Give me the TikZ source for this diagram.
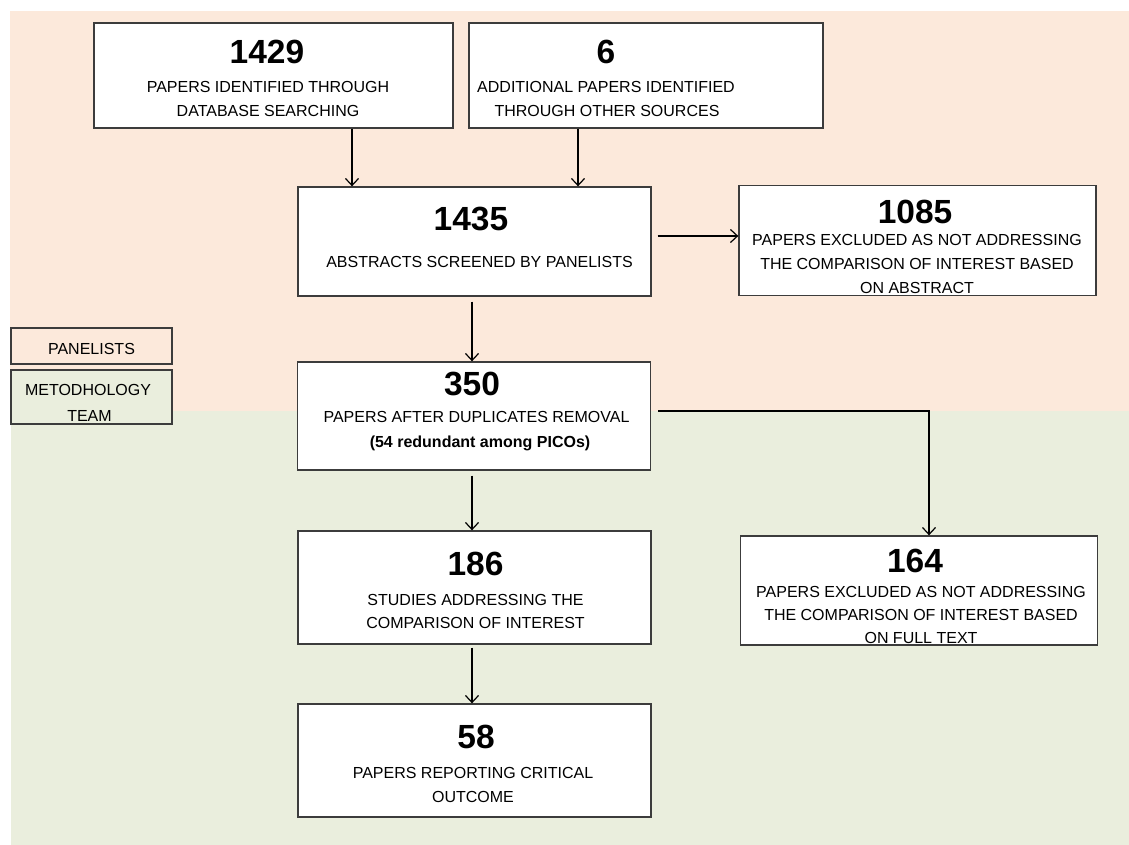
\documentclass[tikz,border=0pt]{standalone}
\usepackage{fontspec}
\setmainfont{Liberation Sans}
\usetikzlibrary{arrows.meta}
\definecolor{peach}{RGB}{252,233,219}
\definecolor{sage}{RGB}{234,238,221}
\definecolor{edge}{RGB}{60,60,60}
\begin{document}
\begin{tikzpicture}[x=1pt,y=-1pt,
  box/.style={draw=edge,line width=1.3pt,fill=white,inner sep=0pt,rectangle},
  num/.style={inner sep=0pt,anchor=base,font=\fontsize{33.5}{36}\selectfont\bfseries},
  txt/.style={inner sep=0pt,anchor=base,font=\fontsize{16}{19}\selectfont},
  btxt/.style={inner sep=0pt,anchor=base,font=\fontsize{16}{19}\selectfont\bfseries},
  arr/.style={line width=1.2pt,-{Straight Barb[length=7pt,width=13pt,line width=1.2pt]}}]
\useasboundingbox (0,0) rectangle (1129,845);
\fill[peach] (10,11) rectangle (1129,411);
\fill[sage] (11,411) rectangle (1129,845);

% boxes
\node[box,minimum width=359pt,minimum height=105pt] (b1429) at (273.5,75.5) {};
\node[box,minimum width=354pt,minimum height=105pt] (b6) at (646,75.5) {};
\node[box,minimum width=353pt,minimum height=109pt] (b1435) at (474.5,241.5) {};
\node[box,minimum width=357pt,minimum height=110pt] (b1085) at (917.5,240.5) {};
\node[box,fill=peach,minimum width=161pt,minimum height=36pt] (bpan) at (91.5,346) {};
\node[box,fill=sage,minimum width=161pt,minimum height=54pt] (bmet) at (91.5,397) {};
\node[box,minimum width=353pt,minimum height=108pt] (b350) at (474,416) {};
\node[box,minimum width=353pt,minimum height=113pt] (b186) at (474.5,587.5) {};
\node[box,minimum width=357pt,minimum height=109pt] (b164) at (919,590.5) {};
\node[box,minimum width=353pt,minimum height=113pt] (b58) at (474.5,760.5) {};

% texts
\node[num] (n1429) at (267,64) {1429};
\node[txt] (t1429a) at (268,93) {PAPERS IDENTIFIED THROUGH};
\node[txt] (t1429b) at (268,117) {DATABASE SEARCHING};

\node[num] (n6) at (606,64) {6};
\node[txt] (t6a) at (606,93) {ADDITIONAL PAPERS IDENTIFIED};
\node[txt] (t6b) at (607,117) {THROUGH OTHER SOURCES};

\node[num] (n1435) at (471,230) {1435};
\node[txt] (t1435) at (479.5,267) {ABSTRACTS SCREENED BY PANELISTS};

\node[num] (n1085) at (915,223) {1085};
\node[txt] (t1085a) at (917,245) {PAPERS EXCLUDED AS NOT ADDRESSING};
\node[txt] (t1085b) at (917,269) {THE COMPARISON OF INTEREST BASED};
\node[txt] (t1085c) at (917,293) {ON ABSTRACT};

\node[txt] (tpan) at (91.5,354) {PANELISTS};
\node[txt] (tmet) at (88,395) {METODHOLOGY};
\node[txt] (tteam) at (89.5,421) {TEAM};

\node[num] (n350) at (472,395) {350};
\node[txt] (t350a) at (476.5,422) {PAPERS AFTER DUPLICATES REMOVAL};
\node[btxt] (t350b) at (480,447) {(54 redundant among PICOs)};

\node[num] (n186) at (475.5,575) {186};
\node[txt] (t186a) at (475.5,605) {STUDIES ADDRESSING THE};
\node[txt] (t186b) at (475.5,628) {COMPARISON OF INTEREST};

\node[num] (n164) at (915,572) {164};
\node[txt] (t164a) at (921,597) {PAPERS EXCLUDED AS NOT ADDRESSING};
\node[txt] (t164b) at (921,620) {THE COMPARISON OF INTEREST BASED};
\node[txt] (t164c) at (921,643) {ON FULL TEXT};

\node[num] (n58) at (476,748) {58};
\node[txt] (t58a) at (473,778) {PAPERS REPORTING CRITICAL};
\node[txt] (t58b) at (473,802) {OUTCOME};

% connectors
\draw[arr] (b1429.south -| 352,0) -- (b1435.north -| 352,0);
\draw[arr] (b6.south -| 578,0) -- (b1435.north -| 578,0);
\draw[arr,shorten <=6pt] (b1435.east |- 0,236) -- (b1085.west |- 0,236);
\draw[arr,shorten <=5pt] (b1435.south -| 472,0) -- (b350.north -| 472,0);
\draw[arr,shorten <=7pt] (b350.east |- 0,411) -| (b164.north -| 929,0);
\draw[arr,shorten <=5pt] (b350.south -| 472,0) -- (b186.north -| 472,0);
\draw[arr,shorten <=3pt] (b186.south -| 472,0) -- (b58.north -| 472,0);
\end{tikzpicture}
\end{document}
